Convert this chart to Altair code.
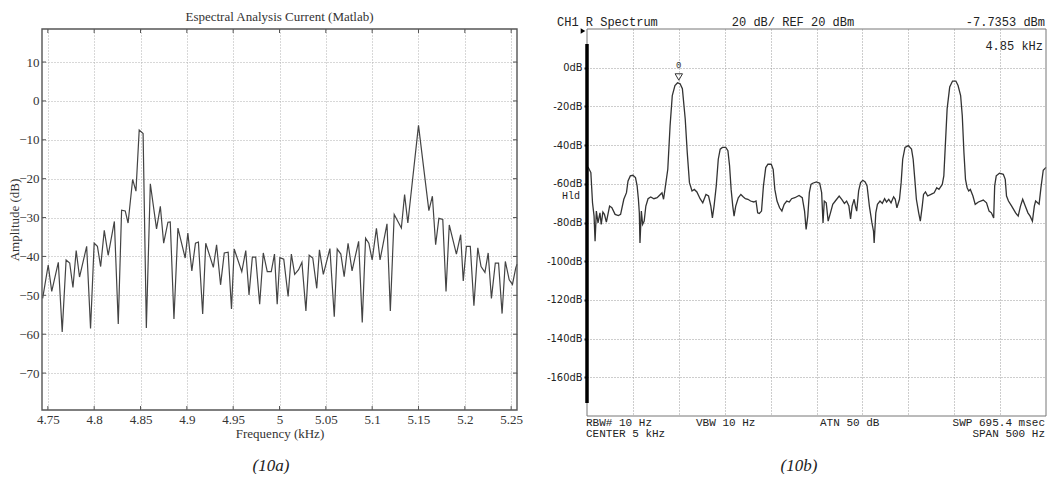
import altair as alt
import pandas as pd

# ---------------- Left panel: Matlab spectrum ----------------
mat_freq = [4.7444, 4.7504, 4.7542, 4.7613, 4.7655, 4.7697, 4.7736, 4.7771, 4.7806, 4.7842,
            4.7919, 4.7961, 4.8000, 4.8035, 4.8070, 4.8109, 4.8151, 4.8218, 4.8260, 4.8296,
            4.8335, 4.8366, 4.8415, 4.8451, 4.8486, 4.8528, 4.8563, 4.8606, 4.8673, 4.8714,
            4.8750, 4.8796, 4.8821, 4.8861, 4.8904, 4.8982, 4.9011, 4.9054, 4.9093, 4.9125,
            4.9171, 4.9204, 4.9286, 4.9321, 4.9364, 4.9404, 4.9446, 4.9482, 4.9511, 4.9593,
            4.9636, 4.9671, 4.9707, 4.9743, 4.9786, 4.9825, 4.9868, 4.9911, 4.9946, 4.9975,
            5.0004, 5.0046, 5.0093, 5.0128, 5.0164, 5.0206, 5.0242, 5.0285, 5.0320, 5.0359,
            5.0402, 5.0431, 5.0473, 5.0544, 5.0591, 5.0623, 5.0662, 5.0698, 5.0740, 5.0783,
            5.0854, 5.0893, 5.0929, 5.0964, 5.1000, 5.1046, 5.1085, 5.1160, 5.1196, 5.1238,
            5.1315, 5.1350, 5.1385, 5.1500, 5.1612, 5.1650, 5.1685, 5.1720, 5.1762, 5.1797,
            5.1832, 5.1909, 5.1955, 5.1983, 5.2017, 5.2059, 5.2098, 5.2140, 5.2175, 5.2217,
            5.2252, 5.2287, 5.2329, 5.2364, 5.2402, 5.2437, 5.2479, 5.2514, 5.2549, 5.2563]
mat_db = [-50.8, -42.2, -49.0, -41.5, -59.4, -40.9, -41.7, -48.0, -38.5, -45.3,
          -37.4, -58.5, -36.6, -37.4, -42.6, -33.3, -39.7, -31.0, -57.4, -28.1,
          -28.3, -31.4, -20.2, -23.2, -7.5, -8.4, -58.4, -21.3, -32.9, -27.1,
          -36.6, -31.2, -31.1, -56.1, -32.7, -40.4, -34.0, -43.7, -36.6, -36.3,
          -54.8, -36.6, -42.8, -37.0, -47.3, -39.1, -38.9, -53.5, -38.1, -43.9,
          -38.5, -49.9, -40.2, -40.2, -52.3, -39.1, -43.9, -43.9, -39.4, -52.3,
          -40.3, -40.7, -50.3, -39.4, -44.6, -43.4, -41.5, -54.0, -39.7, -40.4,
          -48.2, -38.3, -44.6, -38.0, -55.5, -38.1, -39.4, -45.2, -36.6, -43.7,
          -36.1, -57.0, -35.3, -36.6, -40.9, -32.8, -40.9, -31.6, -54.0, -29.2,
          -32.7, -24.1, -31.4, -6.3, -28.2, -24.5, -37.0, -30.2, -30.5, -49.0,
          -31.9, -39.4, -34.4, -46.3, -37.4, -37.4, -52.7, -37.8, -42.6, -44.1,
          -39.1, -50.8, -41.7, -41.7, -54.7, -41.3, -46.0, -47.2, -43.0, -42.0]
mat_xticks = [4.75, 4.8, 4.85, 4.9, 4.95, 5.0, 5.05, 5.1, 5.15, 5.2, 5.25]
mat_yticks = [-70, -60, -50, -40, -30, -20, -10, 0, 10]
mat_xdomain = [4.7437, 5.2563]
mat_ydomain = [-79.5, 18.5]

# ---------------- Right panel: analyzer screen ----------------
sa_freq = [4.7500, 4.7514, 4.7542, 4.7560, 4.7577, 4.7588, 4.7602, 4.7620, 4.7641, 4.7655,
           4.7673, 4.7690, 4.7711, 4.7746, 4.7771, 4.7806, 4.7842, 4.7866, 4.7901, 4.7930,
           4.7947, 4.7972, 4.8000, 4.8028, 4.8046, 4.8060, 4.8070, 4.8077, 4.8092, 4.8106,
           4.8123, 4.8141, 4.8165, 4.8194, 4.8229, 4.8264, 4.8299, 4.8317, 4.8334, 4.8352,
           4.8380, 4.8405, 4.8429, 4.8458, 4.8486, 4.8514, 4.8539, 4.8570, 4.8592, 4.8616,
           4.8644, 4.8669, 4.8697, 4.8732, 4.8761, 4.8796, 4.8824, 4.8849, 4.8866, 4.8884,
           4.8908, 4.8930, 4.8951, 4.8975, 4.9011, 4.9035, 4.9053, 4.9070, 4.9088, 4.9102,
           4.9120, 4.9148, 4.9176, 4.9201, 4.9225, 4.9253, 4.9282, 4.9317, 4.9341, 4.9359,
           4.9377, 4.9401, 4.9422, 4.9447, 4.9471, 4.9507, 4.9528, 4.9546, 4.9570, 4.9598,
           4.9623, 4.9648, 4.9676, 4.9704, 4.9729, 4.9764, 4.9810, 4.9845, 4.9870, 4.9887,
           4.9905, 4.9922, 4.9940, 4.9958, 5.0000, 5.0035, 5.0056, 5.0071, 5.0085, 5.0106,
           5.0127, 5.0152, 5.0177, 5.0205, 5.0247, 5.0275, 5.0304, 5.0328, 5.0353, 5.0371,
           5.0388, 5.0410, 5.0424, 5.0438, 5.0459, 5.0480, 5.0505, 5.0530, 5.0551, 5.0576,
           5.0604, 5.0621, 5.0628, 5.0646, 5.0664, 5.0692, 5.0717, 5.0742, 5.0763, 5.0787,
           5.0812, 5.0840, 5.0858, 5.0876, 5.0904, 5.0922, 5.0939, 5.0964, 5.1000, 5.1035,
           5.1053, 5.1071, 5.1088, 5.1113, 5.1131, 5.1152, 5.1166, 5.1187, 5.1211, 5.1246,
           5.1282, 5.1310, 5.1334, 5.1370, 5.1387, 5.1405, 5.1423, 5.1451, 5.1482, 5.1518,
           5.1542, 5.1570, 5.1588, 5.1606, 5.1623, 5.1641, 5.1658, 5.1676, 5.1704, 5.1729,
           5.1764, 5.1817, 5.1852, 5.1880, 5.1905, 5.1930, 5.1941, 5.1958, 5.1993, 5.2035,
           5.2056, 5.2070, 5.2091, 5.2126, 5.2169, 5.2197, 5.2222, 5.2246, 5.2274, 5.2303,
           5.2327, 5.2352, 5.2373, 5.2387, 5.2408, 5.2425, 5.2445, 5.2470, 5.2500]
sa_db = [-51.8, -51.6, -54.2, -69.8, -76.7, -89.7, -74.1, -80.2, -75.0, -81.0,
         -74.6, -75.8, -79.8, -71.5, -72.4, -75.8, -76.4, -75.8, -68.0, -64.6,
         -58.5, -55.9, -55.6, -56.8, -61.1, -68.0, -75.0, -90.6, -74.1, -81.0,
         -79.3, -71.5, -67.7, -66.8, -67.7, -67.2, -65.5, -64.6, -68.0, -62.0,
         -52.5, -30.0, -14.4, -9.2, -7.8, -8.3, -10.9, -26.5, -43.8, -59.4,
         -63.7, -62.9, -64.2, -67.7, -69.8, -65.5, -66.3, -71.5, -77.6, -71.5,
         -61.1, -47.3, -42.1, -41.2, -41.2, -42.9, -50.7, -62.9, -71.5, -76.7,
         -71.5, -67.2, -65.5, -66.7, -67.7, -68.0, -68.9, -69.4, -68.9, -75.0,
         -75.3, -74.1, -61.1, -51.6, -49.9, -49.9, -52.5, -62.9, -68.9, -72.4,
         -74.1, -70.6, -68.9, -69.4, -67.7, -67.2, -66.0, -67.2, -74.1, -83.6,
         -76.7, -64.6, -60.3, -59.7, -59.0, -59.7, -64.6, -80.2, -68.9, -69.8,
         -79.3, -75.0, -70.6, -68.9, -66.3, -68.0, -70.1, -68.9, -71.5, -78.1,
         -71.5, -68.0, -71.5, -74.1, -63.7, -59.4, -58.2, -59.0, -61.1, -71.5,
         -80.2, -84.5, -90.6, -75.0, -70.6, -68.9, -70.1, -67.7, -69.4, -68.0,
         -69.8, -66.7, -68.0, -72.4, -68.0, -59.4, -47.3, -41.2, -40.3, -42.1,
         -47.3, -57.7, -68.0, -75.0, -79.3, -71.5, -65.5, -64.2, -66.3, -65.5,
         -64.6, -62.0, -62.9, -60.3, -55.9, -38.6, -21.3, -10.0, -6.9, -6.9,
         -9.2, -14.4, -24.8, -43.8, -57.7, -62.0, -63.7, -62.9, -66.3, -70.6,
         -69.4, -68.4, -69.8, -74.1, -75.0, -77.6, -61.1, -55.9, -54.5, -55.1,
         -57.7, -66.3, -68.9, -71.5, -75.0, -76.7, -71.5, -68.0, -71.5, -75.0,
         -76.7, -79.3, -71.5, -68.9, -69.8, -70.5, -62.0, -53.0, -51.5]
sa_xgrid = [4.8, 4.85, 4.9, 4.95, 5.0, 5.05, 5.1, 5.15, 5.2]
sa_ygrid = [0, -20, -40, -60, -80, -100, -120, -140, -160]
sa_xdomain = [4.75, 5.25]
sa_ydomain = [-180, 20]
marker_freq = [4.85]
marker_db = [-4.8]

# ---------------- styling ----------------
SERIF = "Liberation Serif"
MONO = "Liberation Mono"
NARROW = "Liberation Sans Narrow, DejaVu Sans Condensed, Liberation Sans"
W1, H1 = 475, 381
W2, H2 = 459, 387
one = pd.DataFrame({"k": [0]})

# ===== left chart =====
xs1 = alt.Scale(domain=mat_xdomain, nice=False, zero=False)
ys1 = alt.Scale(domain=mat_ydomain, nice=False, zero=False)
df1 = pd.DataFrame({"f": mat_freq, "db": mat_db})

xaxis1 = alt.Axis(
    values=mat_xticks, format=".2~f", grid=True, gridDash=[1, 2], gridColor="#b0b0b0",
    ticks=False, domain=False, labelFont=SERIF, labelFontSize=13, labelColor="#333333",
    labelPadding=3, labelFlush=False, title="Frequency (kHz)", titleFont=SERIF,
    titleFontSize=13, titleFontWeight="normal", titleColor="#333333", titlePadding=1)
yaxis1 = alt.Axis(
    values=mat_yticks, grid=True, gridDash=[1, 2], gridColor="#b0b0b0",
    ticks=False, domain=False, labelFont=SERIF, labelFontSize=13, labelColor="#333333",
    labelPadding=3, title="Amplitude (dB)", titleFont=SERIF, titleFontSize=13,
    titleFontWeight="normal", titleColor="#333333", titlePadding=-3)

line1 = alt.Chart(df1).mark_line(color="#444444", strokeWidth=1.2).encode(
    x=alt.X("f:Q", scale=xs1, axis=xaxis1),
    y=alt.Y("db:Q", scale=ys1, axis=yaxis1),
)

xt_df = pd.DataFrame({"f": mat_xticks})
yt_df = pd.DataFrame({"db": mat_yticks})
tick_b = alt.Chart(xt_df).mark_rule(color="#555555").encode(
    x=alt.X("f:Q", scale=xs1, axis=xaxis1), y=alt.value(H1), y2=alt.value(H1 - 4))
tick_t = alt.Chart(xt_df).mark_rule(color="#555555").encode(
    x=alt.X("f:Q", scale=xs1, axis=xaxis1), y=alt.value(0), y2=alt.value(4))
tick_l = alt.Chart(yt_df).mark_rule(color="#555555").encode(
    y=alt.Y("db:Q", scale=ys1, axis=yaxis1), x=alt.value(0), x2=alt.value(4))
tick_r = alt.Chart(yt_df).mark_rule(color="#555555").encode(
    y=alt.Y("db:Q", scale=ys1, axis=yaxis1), x=alt.value(W1), x2=alt.value(W1 - 4))
frame1 = alt.Chart(one).mark_rect(fillOpacity=0, stroke="#555555", strokeWidth=1.4).encode(
    x=alt.value(0), x2=alt.value(W1), y=alt.value(0), y2=alt.value(H1))
cap1 = alt.Chart(one).mark_text(text="(10a)", font=SERIF, fontStyle="italic", fontSize=17,
                                color="#222222").encode(x=alt.value(229), y=alt.value(437))

left = alt.layer(line1, tick_b, tick_t, tick_l, tick_r, frame1, cap1).properties(
    width=W1, height=H1,
    title=alt.TitleParams("Espectral Analysis Current (Matlab)", font=SERIF, fontSize=13,
                          fontWeight="normal", color="#333333", offset=4))

# ===== right chart =====
xs2 = alt.Scale(domain=sa_xdomain, nice=False, zero=False)
ys2 = alt.Scale(domain=sa_ydomain, nice=False, zero=False)
df2 = pd.DataFrame({"f": sa_freq, "db": sa_db})

xaxis2 = alt.Axis(
    values=sa_xgrid, labels=False, ticks=False, domain=False, grid=True,
    gridDash=[1, 2], gridColor="#9a9a9a", title=None)
yaxis2 = alt.Axis(
    values=sa_ygrid, labelExpr="datum.value + 'dB'", labelFont=NARROW, labelFontSize=11,
    labelColor="#222222", labelPadding=2, ticks=True, tickSize=3, tickWidth=2,
    tickColor="#222222", domain=False, grid=True, gridDash=[1, 2], gridColor="#9a9a9a",
    title=None)

line2 = alt.Chart(df2).mark_line(color="#333333", strokeWidth=1.3).encode(
    x=alt.X("f:Q", scale=xs2, axis=xaxis2),
    y=alt.Y("db:Q", scale=ys2, axis=yaxis2),
)

frame2 = alt.Chart(one).mark_rect(fillOpacity=0, stroke="#777777", strokeWidth=1).encode(
    x=alt.value(0), x2=alt.value(W2), y=alt.value(0), y2=alt.value(H2))
bar2 = alt.Chart(one).mark_rule(color="black", strokeWidth=3.5).encode(
    x=alt.value(0), y=alt.value(15), y2=alt.value(374))
ptr2 = alt.Chart(one).mark_point(shape="triangle-right", filled=True, size=28, color="black",
                                 opacity=1).encode(x=alt.value(-4), y=alt.value(2))

mk_df = pd.DataFrame({"f": marker_freq, "db": marker_db})
mk_sym = alt.Chart(mk_df).mark_point(shape="triangle-down", filled=False, size=55,
                                     color="#333333", strokeWidth=1, opacity=1).encode(
    x=alt.X("f:Q", scale=xs2, axis=xaxis2), y=alt.Y("db:Q", scale=ys2, axis=yaxis2))
mk_lbl = alt.Chart(mk_df).mark_text(text="0", font=MONO, fontSize=9, color="#333333",
                                    dy=-12).encode(
    x=alt.X("f:Q", scale=xs2, axis=xaxis2), y=alt.Y("db:Q", scale=ys2, axis=yaxis2))


def txt(s, x, y, align="left", size=12, font=MONO):
    return alt.Chart(one).mark_text(text=s, font=font, fontSize=size, color="#222222",
                                    align=align, baseline="middle").encode(
        x=alt.value(x), y=alt.value(y))


texts2 = [
    txt("CH1 R  Spectrum", -30, -7),
    txt("20 dB/ REF 20 dBm", 206, -7, "center"),
    txt("-7.7353 dBm", 458, -7, "right"),
    txt("4.85 kHz", 456, 17, "right"),
    txt("Hld", -16, 167, "center", 10),
    txt("RBW# 10 Hz", -1, 394, size=11),
    txt("CENTER  5 kHz", -1, 405, size=11),
    txt("VBW 10 Hz", 109, 394, size=11),
    txt("ATN  50 dB", 233, 394, size=11),
    txt("SWP  695.4 msec", 458, 394, "right", 11),
    txt("SPAN  500 Hz", 458, 405, "right", 11),
]
cap2 = alt.Chart(one).mark_text(text="(10b)", font=SERIF, fontStyle="italic", fontSize=17,
                                color="#222222").encode(x=alt.value(212), y=alt.value(437))

right = alt.layer(line2, frame2, bar2, ptr2, mk_sym, mk_lbl, *texts2, cap2).properties(
    width=W2, height=H2)

chart = alt.hconcat(left, right, spacing=70, bounds="flush").properties(
    padding={"left": 0, "top": 3, "right": 0, "bottom": 0},
    background="white",
).configure_view(stroke=None)

chart.save("out.html", embed_options={"renderer": "svg", "actions": False})
